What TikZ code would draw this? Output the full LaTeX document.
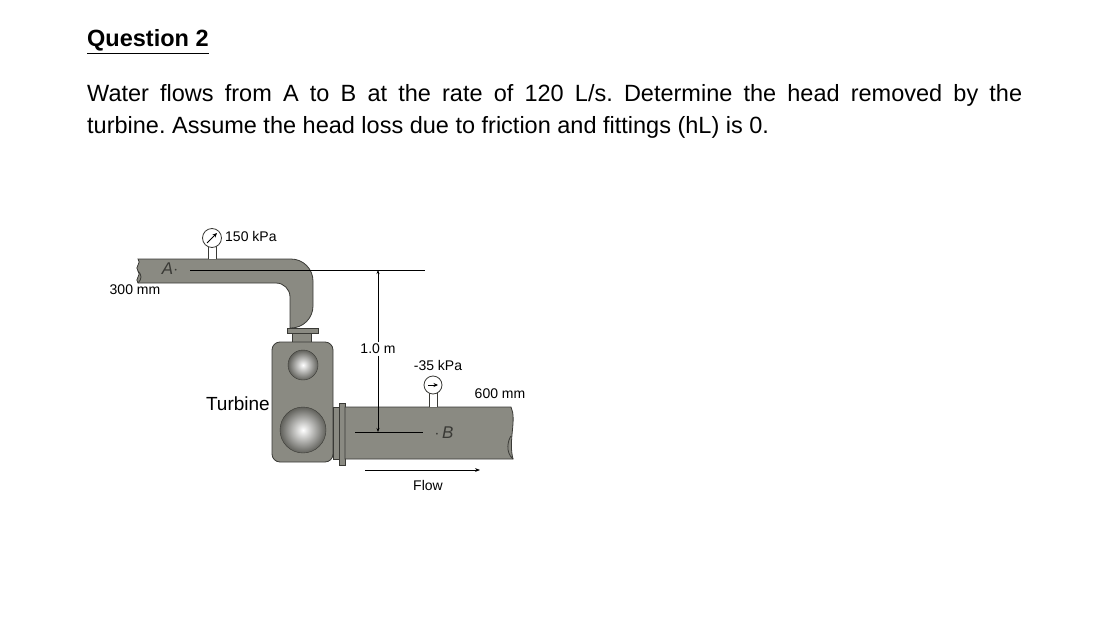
\documentclass[tikz,border=0pt]{standalone}
\usepackage{fontspec}
\setmainfont{Liberation Sans}
\usetikzlibrary{arrows.meta}
\definecolor{pipe}{HTML}{8A8A82}
\definecolor{edge}{HTML}{3A3A36}
\tikzset{
  pipefill/.style={fill=pipe,draw=edge,line width=0.8pt},
  small/.style={font=\fontsize{14}{16}\selectfont,inner sep=0pt},
  gauge/.style={circle,draw=edge,fill=white,line width=0.8pt,minimum size=19pt,inner sep=0pt},
  dim/.style={line width=0.6pt},
  garrow/.style={-{Stealth[length=4.5pt,width=4pt]},line width=0.8pt},
}
\begin{document}
\begin{tikzpicture}[x=1pt,y=-1pt]
\useasboundingbox (0,0) rectangle (1106,618);
\node[anchor=base west,inner sep=0pt,font=\fontsize{23.5}{28}\selectfont\bfseries] (title) at (87,47) {\underline{Question 2}};
\node[anchor=base west,inner sep=0pt,font=\fontsize{23.5}{28}\selectfont] (l1) at (87,102) {\makebox[935pt][s]{Water flows from A to B at the rate of 120 L/s.\ Determine the head removed by the}};
\node[anchor=base west,inner sep=0pt,font=\fontsize{23.5}{28}\selectfont] (l2) at (87,133) {turbine.\ Assume the head loss due to friction and fittings (hL) is 0.};
% upper pipe with elbow
\draw[pipefill] (138,283) .. controls (134,279) and (142,275) .. (138,271) .. controls (134,267) and (142,263) .. (138,259)
  [rounded corners=22pt] -- (313,259) -- (313,328) [sharp corners] -- (290,328) [rounded corners=14pt] -- (290,283) [sharp corners] -- cycle;
\draw[edge,line width=0.8pt] (138,271) .. controls (142,275) and (142,279) .. (138,283);
% neck and flange
\draw[pipefill] (292,333) rectangle (311,344);
\draw[pipefill] (287,328) rectangle (318,333);
% turbine
\draw[pipefill,rounded corners=8pt] (272,342) rectangle (333,462);
\shade[inner color=white,outer color=pipe!70!black,draw=edge] (303,365) circle (15);
\shade[inner color=white,outer color=pipe!70!black,draw=edge] (303,430) circle (23);
% lower pipe
\draw[pipefill] (333,407) rectangle (339,459);
\draw[pipefill] (339,403) rectangle (345,465);
\draw[pipefill] (345,407) -- (511,407) .. controls (517,420) and (508,440) .. (513,459) -- (345,459) -- cycle;
\draw[edge,line width=0.8pt] (513,459) .. controls (505,452) and (508,440) .. (511,436);
% gauges
\draw[edge,line width=0.8pt,fill=white] (208,259) -- (208,245) -- (216,245) -- (216,259);
\node[gauge] (g1) at (212,238) {};
\draw[garrow] ([xshift=-5pt,yshift=-5pt]g1.center) -- ([xshift=5pt,yshift=5pt]g1.center);
\node[small,anchor=west] (p1) at (225,236) {150 kPa};
\draw[edge,line width=0.8pt,fill=white] (429,407) -- (429,392) -- (437,392) -- (437,407);
\node[gauge,minimum size=18pt] (g2) at (433,385) {};
\draw[garrow] ([xshift=-5pt]g2.center) -- ([xshift=5pt]g2.center);
\node[small] (p2) at (438,365) {-35 kPa};
\node[small] (d2) at (500,394) {600 mm};
\node[small] (d1) at (135,290) {300 mm};
% points and dimension
\node[font=\fontsize{17}{19}\selectfont\itshape,inner sep=0pt,text=edge] (A) at (170,269) {A$\cdot$};
\coordinate (Aend) at (425,270);
\draw[dim] (190,270) -- (Aend);
\coordinate (Bstart) at (355,432);
\node[font=\fontsize{17}{19}\selectfont\itshape,inner sep=0pt,text=edge] (B) at (444,433) {$\cdot$\,B};
\draw[dim] (Bstart) -- (423,432);
\coordinate (dt) at (378,270);
\coordinate (db) at (378,432);
\node[small,fill=white,inner sep=1.5pt] (h) at (378,349) {1.0 m};
\draw[dim,-{Stealth[length=4pt]}] (h.north) -- (dt);
\draw[dim,-{Stealth[length=4pt]}] (h.south) -- (db);
\coordinate (fs) at (365,470);
\coordinate (fe) at (480,470);
\draw[dim,-{Stealth[length=5pt]}] (fs) -- (fe);
\node[small] (flow) at (428,485) {Flow};
\node[font=\fontsize{19}{21}\selectfont,anchor=east,inner sep=1pt] (turb) at (271,404) {Turbine};
\end{tikzpicture}
\end{document}
